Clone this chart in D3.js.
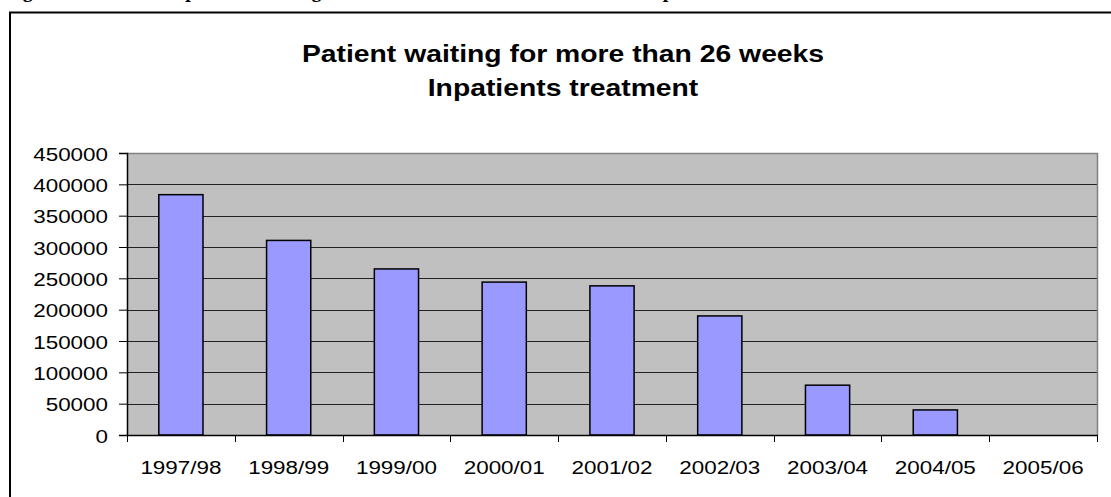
<!DOCTYPE html>
<html>
<head>
<meta charset="utf-8">
<script src="https://cdn.jsdelivr.net/npm/d3@7"></script>
<style>
  body { margin: 0; background: #fff; }
  svg { display: block; }
</style>
</head>
<body>
<div id="vis"></div>
<script>
// ----- DATA ----- //
const years = ["1997/98", "1998/99", "1999/00", "2000/01", "2001/02", "2002/03", "2003/04", "2004/05", "2005/06"];
const patients = [383500, 310500, 265000, 244000, 238000, 190000, 79500, 40000, 0];
const yTicks = [0, 50000, 100000, 150000, 200000, 250000, 300000, 350000, 400000, 450000];
const titleLines = ["Patient waiting for more than 26 weeks", "Inpatients treatment"];

const width = 1111, height = 497;
// the picture is stretched sideways, so text is widened a bit
const sx = 1.18;

const svg = d3.select("#vis")
  .append("svg")
  .attr("width", width)
  .attr("height", height);

// caption cut off at the top of the page (only descenders show)
const cap = svg.append("text")
  .attr("y", -3)
  .style("font-family", "'Liberation Serif', serif")
  .style("font-weight", "bold")
  .style("font-size", "20px");
cap.append("tspan").attr("x", 5).text("Figure 4: Number of patients waiting more than 26 weeks");
cap.append("tspan").attr("x", 616).text("for inpatient treatment");

// outer chart frame
svg.append("rect")
  .attr("x", 10)
  .attr("y", 12.5)
  .attr("width", 1130)
  .attr("height", 520)
  .attr("fill", "#fff")
  .attr("stroke", "#000")
  .attr("stroke-width", 2);

// ----- TITLE ----- //
titleLines.forEach((t, i) => {
  svg.append("text")
    .attr("transform", `translate(563,${62 + i * 34}) scale(${sx},1)`)
    .attr("text-anchor", "middle")
    .style("font-family", "'Liberation Sans', Arial, sans-serif")
    .style("font-weight", "bold")
    .style("font-size", "24px")
    .text(t);
});

// ----- SCALES ----- //
const plot = { left: 127, right: 1097, top: 153, bottom: 435 };

const x = d3.scaleBand()
  .domain(years)
  .range([plot.left, plot.right])
  .paddingInner(0.59)
  .paddingOuter(0.295);

const y = d3.scaleLinear()
  .domain([0, 450000])
  .range([plot.bottom, plot.top]);

// plot background
svg.append("rect")
  .attr("x", plot.left)
  .attr("y", plot.top)
  .attr("width", plot.right - plot.left)
  .attr("height", plot.bottom - plot.top)
  .attr("fill", "#c0c0c0")
  .attr("stroke", "none");

// gridlines
svg.append("g")
  .selectAll("line")
  .data(yTicks.filter(d => d > 0 && d < 450000))
  .join("line")
  .attr("x1", plot.left)
  .attr("x2", plot.right)
  .attr("y1", d => Math.round(y(d)) + 0.5)
  .attr("y2", d => Math.round(y(d)) + 0.5)
  .attr("stroke", "#222")
  .attr("stroke-width", 1);

// top and right border of plot area
svg.append("path")
  .attr("d", `M${plot.left},${plot.top + 0.5}H${plot.right + 0.5}V${plot.bottom}`)
  .attr("fill", "none")
  .attr("stroke", "#808080")
  .attr("stroke-width", 1.5);

// ----- BARS ----- //
svg.append("g")
  .selectAll("rect")
  .data(years.map((d, i) => ({ year: d, value: patients[i] })).filter(d => d.value > 0))
  .join("rect")
  .attr("x", d => x(d.year))
  .attr("y", d => y(d.value))
  .attr("width", x.bandwidth())
  .attr("height", d => y(0) - y(d.value))
  .attr("fill", "#9999ff")
  .attr("stroke", "#000")
  .attr("stroke-width", 1.5);

// ----- AXES ----- //
const yAxis = d3.axisLeft(y).tickValues(yTicks).tickSize(8).tickFormat(d3.format("d"));
const yAxisGroup = svg.append("g")
  .attr("transform", `translate(${plot.left},0)`)
  .call(yAxis);
yAxisGroup.select(".domain").attr("stroke", "#000").attr("stroke-width", 1.5);
yAxisGroup.selectAll(".tick line").attr("stroke", "#000");
yAxisGroup.selectAll(".tick text")
  .attr("x", null)
  .attr("dy", null)
  .attr("transform", `translate(-19,7) scale(${sx},1)`)
  .style("font-family", "'Liberation Sans', Arial, sans-serif")
  .style("font-size", "19px")
  .attr("fill", "#000");

// x axis ticks sit on category boundaries
const xBounds = d3.range(years.length + 1).map(i => plot.left + i * x.step());
const xAxisGroup = svg.append("g");
xAxisGroup.append("line")
  .attr("x1", plot.left)
  .attr("x2", plot.right + 1)
  .attr("y1", plot.bottom + 0.5)
  .attr("y2", plot.bottom + 0.5)
  .attr("stroke", "#000")
  .attr("stroke-width", 1.5);
xAxisGroup.selectAll(".xtick")
  .data(xBounds)
  .join("line")
  .attr("class", "xtick")
  .attr("x1", d => Math.round(d) + 0.5)
  .attr("x2", d => Math.round(d) + 0.5)
  .attr("y1", plot.bottom)
  .attr("y2", plot.bottom + 7)
  .attr("stroke", "#000");
xAxisGroup.selectAll(".xlabel")
  .data(years)
  .join("text")
  .attr("class", "xlabel")
  .attr("transform", d => `translate(${x(d) + x.bandwidth() / 2},474) scale(${sx},1)`)
  .attr("text-anchor", "middle")
  .style("font-family", "'Liberation Sans', Arial, sans-serif")
  .style("font-size", "19px")
  .text(d => d);
</script>
</body>
</html>
